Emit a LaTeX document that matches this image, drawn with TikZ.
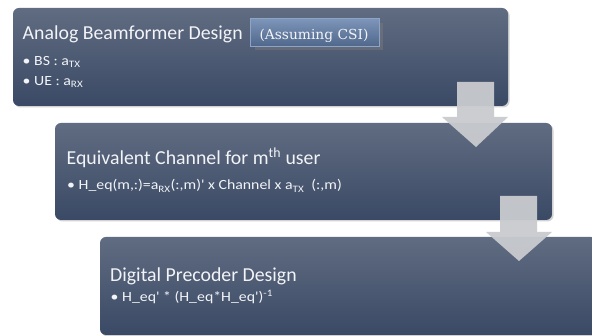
\documentclass[tikz,border=0pt]{standalone}
\usepackage{fontspec}
\setmainfont{Carlito}
\newfontfamily\csifont{DejaVu Serif}
\newfontfamily\bulletfont[FakeStretch=1.13]{Carlito}
\usetikzlibrary{shadows,calc}
\definecolor{boxtop}{HTML}{606C81}
\definecolor{boxbot}{HTML}{3A4965}
\definecolor{arrowgrey}{HTML}{C9CBCF}
\definecolor{txt}{HTML}{F2F4F7}
\definecolor{csitop}{HTML}{7D95B8}
\definecolor{csibot}{HTML}{4F678B}
\definecolor{csiedge}{HTML}{8DA4C4}
\tikzset{
  x=1pt, y=-1pt,
  stagebox/.style={rounded corners=6pt, top color=boxtop, bottom color=boxbot, draw=none,
    drop shadow={shadow xshift=1.5pt, shadow yshift=-1.5pt, opacity=0.35}},
  titletext/.style={anchor=base west, inner sep=0pt, text=txt, font=\fontsize{19.8}{22}\selectfont},
  bullettext/.style={anchor=base west, inner sep=0pt, text=txt, font=\bulletfont\fontsize{14}{15}\selectfont},
  blockarrow/.style={fill=arrowgrey, fill opacity=0.95, draw=none},
  csibox/.style={top color=csitop, bottom color=csibot, draw=csiedge, line width=1.2pt,
    drop shadow={shadow xshift=4pt, shadow yshift=-4pt, opacity=0.4}},
}
\begin{document}
\begin{tikzpicture}
\useasboundingbox (0,0) rectangle (592,336);
\fill[white] (0,0) rectangle (592,336);
% stage boxes
\path[stagebox] (13,8) rectangle (508,106);
\path[stagebox] (55,123) rectangle (552,220);
\path[stagebox] (100,237) rectangle (597,335);
% CSI box
\path[csibox] (250.6,18.6) rectangle (379.4,46.4);
\node[anchor=base, inner sep=0pt, text=txt, font=\csifont\fontsize{13.8}{15}\selectfont] (csi) at (314,40) {(Assuming CSI)};
% texts box 1
\node[titletext] (t1) at (22.5,40) {Analog Beamformer Design};
\node[bullettext] (b1a) at (22.5,65.7) {\textbullet\ BS : a\textsubscript{TX}};
\node[bullettext] (b1b) at (22.5,85.7) {\textbullet\ UE : a\textsubscript{RX}};
% texts box 2
\node[titletext] (t2) at (66.5,165) {Equivalent Channel for m\textsuperscript{th} user};
\node[bullettext] (b2a) at (67,190) {\textbullet\ H\_eq(m,:)=a\textsubscript{RX}(:,m)' x Channel x a\textsubscript{TX}\ \ (:,m)};
% texts box 3
\node[titletext] (t3) at (110,281.7) {Digital Precoder Design};
\node[bullettext] (b3a) at (110.5,301.7) {\textbullet\ H\_eq' * (H\_eq*H\_eq')\textsuperscript{-1}};
% block arrows
\path[blockarrow] (457,82) -- (494,82) -- (494,117) -- (508,117) -- (476,147) -- (442,117) -- (457,117) -- cycle;
\path[blockarrow] (500,196) -- (537,196) -- (537,232) -- (552,232) -- (519,261) -- (486,232) -- (500,232) -- cycle;
\end{tikzpicture}
\end{document}
